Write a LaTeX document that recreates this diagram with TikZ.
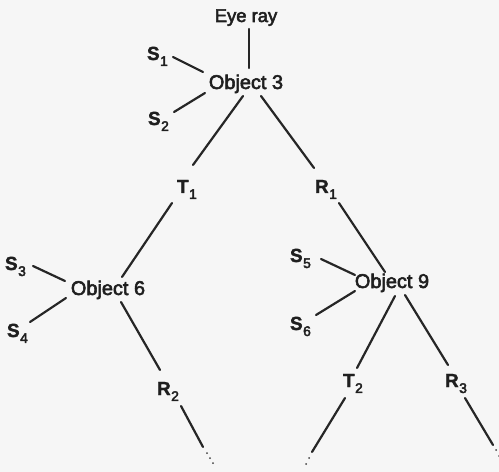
\documentclass[tikz,border=0pt]{standalone}
\usepackage{fontspec}
\setmainfont{Liberation Sans}
\newcommand{\hv}[2][0.55]{\special{pdf:literal direct 2 Tr #1 w 0.12 G}#2\special{pdf:literal direct 0 Tr}}
\newcommand{\lbl}[2]{{\fontsize{19}{19}\selectfont\bfseries\hv[0.3]{#1}}\kern0.5pt\raisebox{-6pt}{\fontsize{14}{14}\selectfont\hv[0.4]{#2}}}
\begin{document}
\begin{tikzpicture}[x=1bp,y=-1bp,
  txt/.style={inner sep=0pt,outer sep=0pt,text=black!88},
  obj/.style={txt,anchor=base,font=\fontsize{20}{20}\selectfont},
  ray/.style={txt,anchor=base west},
  edge/.style={line width=2.2bp,draw=black!85,line cap=round},
  dotmark/.style={fill=black!75,draw=none}]
\fill[gray!7] (0,0) rectangle (499,472);
\useasboundingbox (0,0) rectangle (499,472);
% nodes
\node[obj,font=\fontsize{18.5}{18.5}\selectfont] (eye) at (246,22) {\hv{Eye ray}};
\node[obj] (o3) at (246,89) {\hv{Object 3}};
\node[obj] (o6) at (108,295) {\hv{Object 6}};
\node[obj] (o9) at (392,288) {\hv{Object 9}};
\node[ray] (s1) at (147,60) {\lbl{S}{1}};
\node[ray] (s2) at (148,125) {\lbl{S}{2}};
\node[ray] (t1) at (177,193) {\lbl{T}{1}};
\node[ray] (r1) at (315,193) {\lbl{R}{1}};
\node[ray] (s3) at (5,270) {\lbl{S}{3}};
\node[ray] (s4) at (7,337) {\lbl{S}{4}};
\node[ray] (r2) at (157,395) {\lbl{R}{2}};
\node[ray] (s5) at (290,262) {\lbl{S}{5}};
\node[ray] (s6) at (290,330) {\lbl{S}{6}};
\node[ray] (t2) at (343,387) {\lbl{T}{2}};
\node[ray] (r3) at (445,387) {\lbl{R}{3}};
% free ends
\coordinate (r2end) at (203,447);
\coordinate (t2end) at (312,452);
\coordinate (r3end) at (493,445);
% connectors
\draw[edge] ([shift={(3,7)}]eye.base) -- ([shift={(3,-21)}]o3.base);
\draw[edge] ([shift={(26,-3)}]s1.base west) -- ([shift={(-43,-17)}]o3.base);
\draw[edge] ([shift={(26,-13)}]s2.base west) -- ([shift={(-41,4)}]o3.base);
\draw[edge] ([shift={(-3,7)}]o3.base) -- ([shift={(16,-28)}]t1.base west);
\draw[edge] ([shift={(15,7)}]o3.base) -- ([shift={(-1,-25)}]r1.base west);
\draw[edge] ([shift={(-5,10)}]t1.base west) -- ([shift={(14,-18)}]o6.base);
\draw[edge] ([shift={(28,-4)}]s3.base west) -- ([shift={(-43,-14)}]o6.base);
\draw[edge] ([shift={(23,-15)}]s4.base west) -- ([shift={(-42,3)}]o6.base);
\draw[edge] ([shift={(13,7)}]o6.base) -- ([shift={(3,-25)}]r2.base west);
\draw[edge] ([shift={(24,11)}]r2.base west) -- (r2end);
\draw[edge] ([shift={(24,10)}]r1.base west) -- ([shift={(-7,-16)}]o9.base);
\draw[edge] ([shift={(31,-3)}]s5.base west) -- ([shift={(-37,-13)}]o9.base);
\draw[edge] ([shift={(26,-15)}]s6.base west) -- ([shift={(-37,3)}]o9.base);
\draw[edge] ([shift={(3,8)}]o9.base) -- ([shift={(14,-19)}]t2.base west);
\draw[edge] ([shift={(13,7)}]o9.base) -- ([shift={(3,-22)}]r3.base west);
\draw[edge] ([shift={(2,11)}]t2.base west) -- (t2end);
\draw[edge] ([shift={(20,11)}]r3.base west) -- (r3end);
% trailing dots
\foreach \d in {(207,453),(210,458),(213,463)} \fill[dotmark] \d circle (1);
\foreach \d in {(309,458),(306,464)} \fill[dotmark] \d circle (1);
\foreach \d in {(496,450),(499,456)} \fill[dotmark] \d circle (1);
\end{tikzpicture}
\end{document}
